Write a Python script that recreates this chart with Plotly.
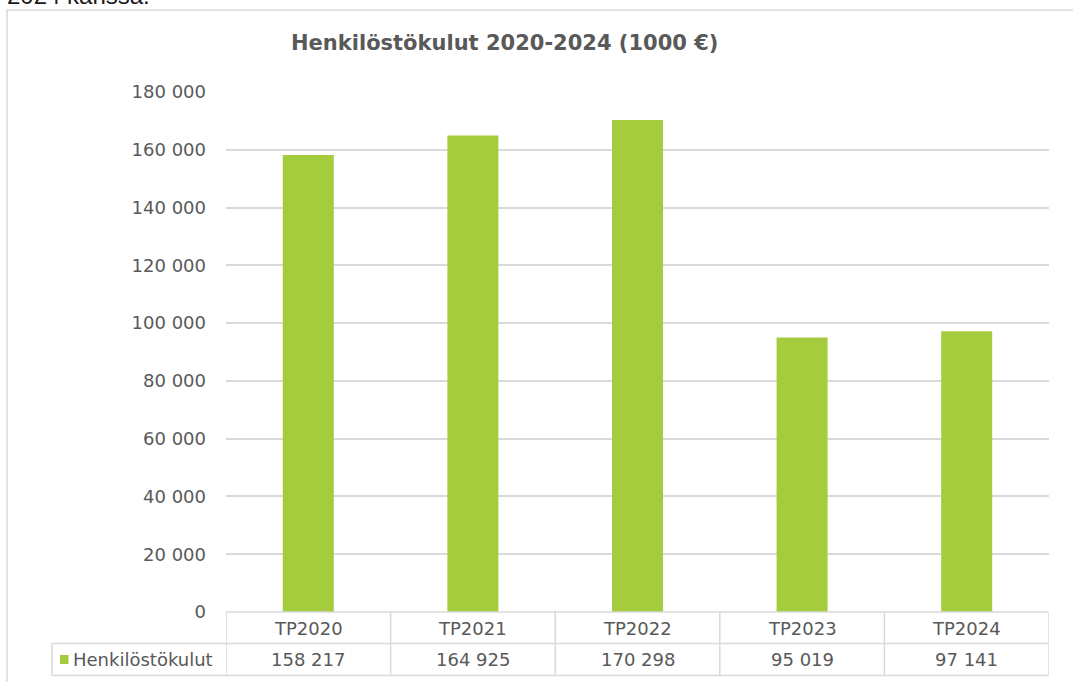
import plotly.graph_objects as go

categories = ["TP2020", "TP2021", "TP2022", "TP2023", "TP2024"]
values = [158217, 164925, 170298, 95019, 97141]
series_name = "Henkilöstökulut"
title_text = "Henkilöstökulut 2020-2024 (1000 €)"
top_text = "2024 kanssa."

W, H = 1073, 682
L, R, T, B = 226, 24, 92, 70
PW, PH = W - L - R, H - T - B
GREEN = "#A4CC3D"
GRID = "#D9D9D9"
TXT = "#595959"
FONT = "Verdana, DejaVu Sans, sans-serif"
FS = 18


def px(x):
    return (x - L) / PW


def py(y):
    return (H - B - y) / PH


def fmt(v):
    return f"{v:,}".replace(",", " ")


fig = go.Figure()
fig.add_trace(go.Bar(x=categories, y=values, name=series_name,
                     marker=dict(color=GREEN, line=dict(width=0)), width=0.31,
                     hoverinfo="skip"))

shapes = []
ann = []

# chart border
shapes.append(dict(type="rect", xref="paper", yref="paper", x0=px(7), x1=px(1090),
                   y0=py(700), y1=py(10), line=dict(color=GRID, width=1.5), layer="below"))

# table lines
row_top, row_mid, row_bot = 612, 643.5, 675.5
left_leg = 52
for yy, x0 in [(row_top, L), (row_mid, left_leg), (row_bot, left_leg)]:
    shapes.append(dict(type="line", xref="paper", yref="paper", x0=px(x0), x1=px(1048.5),
                       y0=py(yy), y1=py(yy), line=dict(color=GRID, width=1.5)))
shapes.append(dict(type="line", xref="paper", yref="paper", x0=px(left_leg), x1=px(left_leg),
                   y0=py(row_mid), y1=py(row_bot), line=dict(color=GRID, width=1.5)))
for i in range(len(categories) + 1):
    shapes.append(dict(type="line", xref="x", yref="paper", x0=i - 0.5, x1=i - 0.5,
                       y0=py(row_top), y1=py(row_bot), line=dict(color=GRID, width=1.5)))

# legend key in table
shapes.append(dict(type="rect", xref="paper", yref="paper", x0=px(60), x1=px(68.5),
                   y0=py(664), y1=py(655), fillcolor=GREEN, line=dict(width=0)))
ann.append(dict(text=series_name, xref="paper", yref="paper", x=px(71), y=py(659.5),
                xanchor="left", yanchor="middle", showarrow=False,
                font=dict(size=FS, color=TXT, family=FONT)))

for c, v in zip(categories, values):
    ann.append(dict(text=c, xref="x", yref="paper", x=c, y=py(628), xanchor="center",
                    yanchor="middle", showarrow=False, font=dict(size=FS, color=TXT, family=FONT)))
    ann.append(dict(text=fmt(v), xref="x", yref="paper", x=c, y=py(659.5), xanchor="center",
                    yanchor="middle", showarrow=False, font=dict(size=FS, color=TXT, family=FONT)))

# title
ann.append(dict(text="<b>" + title_text + "</b>", xref="paper", yref="paper", x=px(504), y=py(43),
                xanchor="center", yanchor="middle", showarrow=False,
                font=dict(size=21, color=TXT, family=FONT)))

# clipped text at very top
ann.append(dict(text=top_text, xref="paper", yref="paper", x=px(5), y=py(11),
                xanchor="left", yanchor="bottom", showarrow=False,
                font=dict(size=24, color="#1a1a1a", family="Liberation Sans, Arial, sans-serif")))

fig.update_layout(
    width=W, height=H,
    margin=dict(l=L, r=R, t=T, b=B, pad=0),
    paper_bgcolor="white", plot_bgcolor="white",
    separators=", ",
    showlegend=False,
    shapes=shapes, annotations=ann,
    font=dict(family=FONT, color=TXT, size=FS),
    xaxis=dict(type="category", showticklabels=False, showgrid=False, zeroline=False,
               showline=False, range=[-0.5, 4.5], fixedrange=True),
    yaxis=dict(range=[0, 180000], dtick=20000, tickformat=",d", showgrid=True,
               gridcolor=GRID, gridwidth=1.5, zeroline=False, showline=False,
               ticks="", ticklabelstandoff=19, tickfont=dict(size=FS, color=TXT, family=FONT)),
)

fig.write_html("out.html", config={"displayModeBar": False},
               post_script="document.body.style.margin='0';")
